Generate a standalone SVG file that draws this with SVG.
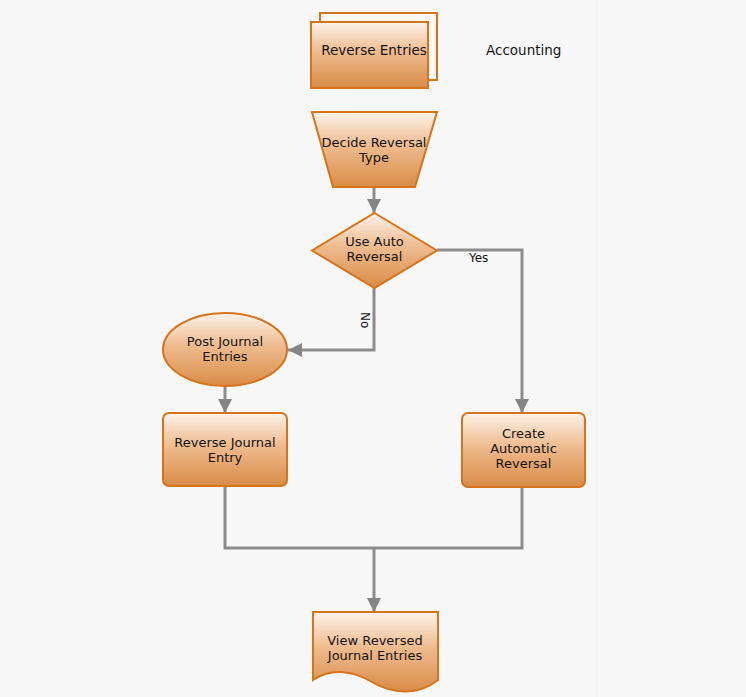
<svg xmlns="http://www.w3.org/2000/svg" width="746" height="697" viewBox="0 0 746 697">
<defs>
<linearGradient id="g" x1="0" y1="0" x2="0" y2="1">
<stop offset="0" stop-color="#fdf3ea"/>
<stop offset="0.45" stop-color="#eebb8e"/>
<stop offset="1" stop-color="#d98c47"/>
</linearGradient>
<marker id="arr" markerUnits="userSpaceOnUse" markerWidth="16" markerHeight="14" refX="14" refY="7" orient="auto">
<path d="M0,0 L14,7 L0,14 Z" fill="#858585"/>
</marker>
<style>
.shape{fill:url(#g);stroke:#d5741a;stroke-width:2}
.t{font-family:"DejaVu Sans",Verdana,sans-serif;font-size:13px;fill:#141414;text-anchor:middle}
.lbl{font-family:"DejaVu Sans",Verdana,sans-serif;font-size:12px;fill:#141414}
.c{fill:none;stroke:#8c8c8c;stroke-width:3}
</style>
</defs>
<rect x="0" y="0" width="746" height="697" fill="#f7f7f7"/>
<line x1="597" y1="0" x2="597" y2="697" stroke="#f4f4f4" stroke-width="1"/>

<g id="connectors">
<path class="c" d="M374,188 V213" marker-end="url(#arr)"/>
<path class="c" d="M437,250 H522 V413" marker-end="url(#arr)"/>
<path class="c" d="M374,288 V350 H288" marker-end="url(#arr)"/>
<path class="c" d="M225,387 V413" marker-end="url(#arr)"/>
<path class="c" d="M225,487 V548 H522 V488"/>
<path class="c" d="M374,548 V612" marker-end="url(#arr)"/>
<text class="lbl" x="469" y="262">Yes</text>
<text class="lbl" transform="translate(361,312) rotate(90)">No</text>
</g>

<g id="reverse-entries">
<rect class="shape" x="320" y="13" width="117" height="67" style="fill:#fdf8f3"/>
<rect class="shape" x="311" y="22" width="117" height="66"/>
<text class="t" x="374" y="55" style="font-size:13.5px">Reverse Entries</text>
</g>

<g id="accounting">
<text class="lbl" x="486" y="55" style="font-size:13.5px">Accounting</text>
</g>

<g id="decide-reversal-type">
<path class="shape" d="M312,112 H437 L415,187 H333 Z"/>
<text class="t" x="374" y="146.5">Decide Reversal</text>
<text class="t" x="374" y="161.5">Type</text>
</g>

<g id="use-auto-reversal">
<path class="shape" d="M374.5,213 L437,250.5 L374.5,288 L312,250.5 Z"/>
<text class="t" x="374.5" y="245.5">Use Auto</text>
<text class="t" x="374.5" y="260.5">Reversal</text>
</g>

<g id="post-journal-entries">
<ellipse class="shape" cx="225" cy="349.5" rx="62" ry="36.5"/>
<text class="t" x="225" y="345.5">Post Journal</text>
<text class="t" x="225" y="360.5">Entries</text>
</g>

<g id="reverse-journal-entry">
<rect class="shape" x="163" y="413" width="124" height="73" rx="6"/>
<text class="t" x="225" y="446.5">Reverse Journal</text>
<text class="t" x="225" y="461.5">Entry</text>
</g>

<g id="create-automatic-reversal">
<rect class="shape" x="462" y="413" width="123" height="74" rx="6"/>
<text class="t" x="523.5" y="438">Create</text>
<text class="t" x="523.5" y="453">Automatic</text>
<text class="t" x="523.5" y="468">Reversal</text>
</g>

<g id="view-reversed-journal-entries">
<path class="shape" d="M313,612 H438 V680 C418,696 392,694 372,682 C352,670 330,668 313,680 Z"/>
<text class="t" x="375" y="644.5">View Reversed</text>
<text class="t" x="375" y="659.5">Journal Entries</text>
</g>
</svg>
